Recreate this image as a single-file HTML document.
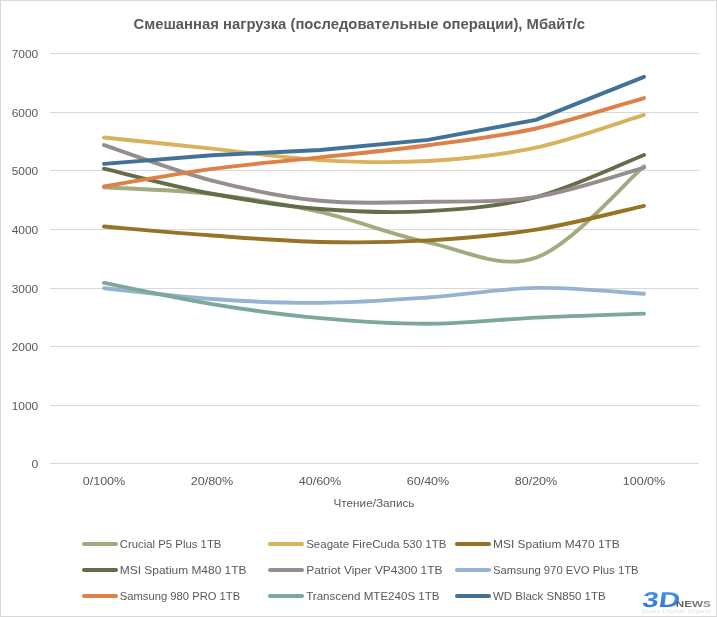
<!DOCTYPE html>
<html><head><meta charset="utf-8"><title>Смешанная нагрузка</title>
<style>
html,body{margin:0;padding:0;background:#fff;}
svg{display:block;will-change:transform;}
text{font-family:'Liberation Sans', Arial, sans-serif;fill:#595959;}
</style></head><body>
<svg width="717" height="617" viewBox="0 0 717 617">
<rect x="0.5" y="0.5" width="716" height="616" fill="#fff" stroke="#d9d9d9" stroke-width="1"/>
<text x="133.6" y="28.6" font-size="15.2" font-weight="bold" textLength="451.5" lengthAdjust="spacingAndGlyphs">Смешанная нагрузка (последовательные операции), Мбайт/с</text>
<line x1="50" y1="53.5" x2="699" y2="53.5" stroke="#d9d9d9" stroke-width="1"/>
<line x1="50" y1="112.5" x2="699" y2="112.5" stroke="#d9d9d9" stroke-width="1"/>
<line x1="50" y1="170.5" x2="699" y2="170.5" stroke="#d9d9d9" stroke-width="1"/>
<line x1="50" y1="229.5" x2="699" y2="229.5" stroke="#d9d9d9" stroke-width="1"/>
<line x1="50" y1="288.5" x2="699" y2="288.5" stroke="#d9d9d9" stroke-width="1"/>
<line x1="50" y1="346.5" x2="699" y2="346.5" stroke="#d9d9d9" stroke-width="1"/>
<line x1="50" y1="405.5" x2="699" y2="405.5" stroke="#d9d9d9" stroke-width="1"/>
<line x1="50" y1="463.5" x2="699" y2="463.5" stroke="#d9d9d9" stroke-width="1"/>
<text x="38.2" y="58.0" font-size="11.5" text-anchor="end" textLength="26.5" lengthAdjust="spacingAndGlyphs">7000</text>
<text x="38.2" y="117.0" font-size="11.5" text-anchor="end" textLength="26.5" lengthAdjust="spacingAndGlyphs">6000</text>
<text x="38.2" y="175.0" font-size="11.5" text-anchor="end" textLength="26.5" lengthAdjust="spacingAndGlyphs">5000</text>
<text x="38.2" y="234.0" font-size="11.5" text-anchor="end" textLength="26.5" lengthAdjust="spacingAndGlyphs">4000</text>
<text x="38.2" y="293.0" font-size="11.5" text-anchor="end" textLength="26.5" lengthAdjust="spacingAndGlyphs">3000</text>
<text x="38.2" y="351.0" font-size="11.5" text-anchor="end" textLength="26.5" lengthAdjust="spacingAndGlyphs">2000</text>
<text x="38.2" y="410.0" font-size="11.5" text-anchor="end" textLength="26.5" lengthAdjust="spacingAndGlyphs">1000</text>
<text x="38.2" y="468.0" font-size="11.5" text-anchor="end" textLength="6.8" lengthAdjust="spacingAndGlyphs">0</text>
<text x="104.0" y="485.2" font-size="11.5" text-anchor="middle" textLength="42.6" lengthAdjust="spacingAndGlyphs">0/100%</text>
<text x="212.0" y="485.2" font-size="11.5" text-anchor="middle" textLength="42.6" lengthAdjust="spacingAndGlyphs">20/80%</text>
<text x="320.0" y="485.2" font-size="11.5" text-anchor="middle" textLength="42.6" lengthAdjust="spacingAndGlyphs">40/60%</text>
<text x="428.0" y="485.2" font-size="11.5" text-anchor="middle" textLength="42.6" lengthAdjust="spacingAndGlyphs">60/40%</text>
<text x="536.0" y="485.2" font-size="11.5" text-anchor="middle" textLength="42.6" lengthAdjust="spacingAndGlyphs">80/20%</text>
<text x="644.0" y="485.2" font-size="11.5" text-anchor="middle" textLength="42.6" lengthAdjust="spacingAndGlyphs">100/0%</text>
<text x="374" y="506.8" font-size="11" text-anchor="middle" textLength="81" lengthAdjust="spacingAndGlyphs">Чтение/Запись</text>
<g fill="none" stroke-width="3.90" stroke-linecap="round" stroke-linejoin="round">
<path stroke="#A2AB7F" d="M104.00 187.28 C122.00 188.41 176.00 189.96 212.00 194.07 C248.00 198.18 284.00 203.88 320.00 211.94 C356.00 219.99 392.00 234.78 428.00 242.39 C464.00 250.01 500.00 270.30 536.00 257.62 C572.00 244.94 626.00 181.53 644.00 166.31"/>
<path stroke="#D9B25E" d="M104.00 137.49 C122.00 139.36 176.00 144.91 212.00 148.68 C248.00 152.45 284.00 158.05 320.00 160.10 C356.00 162.15 392.00 163.05 428.00 160.98 C464.00 158.91 500.00 155.37 536.00 147.68 C572.00 140.00 626.00 120.35 644.00 114.88"/>
<path stroke="#967325" d="M104.00 226.52 C122.00 228.01 176.00 232.90 212.00 235.48 C248.00 238.06 284.00 241.16 320.00 241.98 C356.00 242.80 392.00 242.45 428.00 240.40 C464.00 238.35 500.00 235.43 536.00 229.68 C572.00 223.93 626.00 209.87 644.00 205.90"/>
<path stroke="#656D48" d="M104.00 168.71 C122.00 172.89 176.00 187.06 212.00 193.78 C248.00 200.49 284.00 206.12 320.00 209.01 C356.00 211.90 392.00 213.10 428.00 211.12 C464.00 209.13 500.00 206.47 536.00 197.12 C572.00 187.77 626.00 162.02 644.00 155.00"/>
<path stroke="#978D8D" d="M104.00 145.11 C122.00 151.02 176.00 171.32 212.00 180.60 C248.00 189.88 284.00 197.27 320.00 200.81 C356.00 204.34 392.00 202.44 428.00 201.80 C464.00 201.17 500.00 202.68 536.00 197.00 C572.00 191.32 626.00 172.60 644.00 167.71"/>
<path stroke="#95B4D2" d="M104.00 288.20 C122.00 290.00 176.00 296.58 212.00 299.03 C248.00 301.48 284.00 303.15 320.00 302.90 C356.00 302.64 392.00 300.01 428.00 297.51 C464.00 295.01 500.00 288.54 536.00 287.90 C572.00 287.27 626.00 292.73 644.00 293.70"/>
<path stroke="#DE8148" d="M104.00 186.40 C122.00 183.48 176.00 173.72 212.00 168.89 C248.00 164.05 284.00 161.35 320.00 157.41 C356.00 153.46 392.00 150.05 428.00 145.22 C464.00 140.40 500.00 136.34 536.00 128.47 C572.00 120.60 626.00 103.09 644.00 98.01"/>
<path stroke="#7BA89A" d="M104.00 282.92 C122.00 286.45 176.00 298.20 212.00 304.07 C248.00 309.94 284.00 314.84 320.00 318.13 C356.00 321.42 392.00 323.89 428.00 323.81 C464.00 323.72 500.00 319.29 536.00 317.60 C572.00 315.91 626.00 314.33 644.00 313.67"/>
<path stroke="#427297" d="M104.00 163.91 L212.00 155.30 L320.00 150.03 L428.00 139.89 L536.00 119.92 L644.00 76.87"/>
</g>
<line x1="84.0" y1="544.0" x2="116.0" y2="544.0" stroke="#A2AB7F" stroke-width="4.10" stroke-linecap="round"/>
<text x="119.8" y="547.8" font-size="11.5" textLength="101.6" lengthAdjust="spacingAndGlyphs">Crucial P5 Plus 1TB</text>
<line x1="270.0" y1="544.0" x2="302.0" y2="544.0" stroke="#D9B25E" stroke-width="4.10" stroke-linecap="round"/>
<text x="306.2" y="547.8" font-size="11.5" textLength="140.3" lengthAdjust="spacingAndGlyphs">Seagate FireCuda 530 1TB</text>
<line x1="457.0" y1="544.0" x2="489.0" y2="544.0" stroke="#967325" stroke-width="4.10" stroke-linecap="round"/>
<text x="493.0" y="547.8" font-size="11.5" textLength="126.8" lengthAdjust="spacingAndGlyphs">MSI Spatium M470 1TB</text>
<line x1="84.0" y1="570.0" x2="116.0" y2="570.0" stroke="#656D48" stroke-width="4.10" stroke-linecap="round"/>
<text x="119.8" y="573.8" font-size="11.5" textLength="126.7" lengthAdjust="spacingAndGlyphs">MSI Spatium M480 1TB</text>
<line x1="270.0" y1="570.0" x2="302.0" y2="570.0" stroke="#978D8D" stroke-width="4.10" stroke-linecap="round"/>
<text x="306.2" y="573.8" font-size="11.5" textLength="136.3" lengthAdjust="spacingAndGlyphs">Patriot Viper VP4300 1TB</text>
<line x1="457.0" y1="570.0" x2="489.0" y2="570.0" stroke="#95B4D2" stroke-width="4.10" stroke-linecap="round"/>
<text x="493.0" y="573.8" font-size="11.5" textLength="145.6" lengthAdjust="spacingAndGlyphs">Samsung 970 EVO Plus 1TB</text>
<line x1="84.0" y1="596.0" x2="116.0" y2="596.0" stroke="#DE8148" stroke-width="4.10" stroke-linecap="round"/>
<text x="119.8" y="599.8" font-size="11.5" textLength="120.4" lengthAdjust="spacingAndGlyphs">Samsung 980 PRO 1TB</text>
<line x1="270.0" y1="596.0" x2="302.0" y2="596.0" stroke="#7BA89A" stroke-width="4.10" stroke-linecap="round"/>
<text x="306.2" y="599.8" font-size="11.5" textLength="133.4" lengthAdjust="spacingAndGlyphs">Transcend MTE240S 1TB</text>
<line x1="457.0" y1="596.0" x2="489.0" y2="596.0" stroke="#427297" stroke-width="4.10" stroke-linecap="round"/>
<text x="493.0" y="599.8" font-size="11.5" textLength="112.6" lengthAdjust="spacingAndGlyphs">WD Black SN850 1TB</text>
<defs><linearGradient id="lg" x1="0" y1="0" x2="0" y2="1" gradientUnits="objectBoundingBox"><stop offset="0" stop-color="#4a9be8"/><stop offset="1" stop-color="#2d6fd2"/></linearGradient>
<linearGradient id="ng" x1="0" y1="0" x2="1" y2="0"><stop offset="0" stop-color="#5a5a5a"/><stop offset="1" stop-color="#8a8a8a"/></linearGradient></defs>
<g transform="translate(641.6 606.9) skewX(-8)"><text x="0" y="0" font-size="21.4" font-weight="bold" style="fill:url(#lg)" textLength="37.5" lengthAdjust="spacingAndGlyphs">3D</text></g>
<text x="675.8" y="607" font-size="8.4" font-weight="bold" style="fill:url(#ng)" textLength="35" lengthAdjust="spacingAndGlyphs">NEWS</text>
<text x="642" y="613.3" font-size="4.6" style="fill:#e2e2e2" textLength="69" lengthAdjust="spacingAndGlyphs">Daily Digital Digest</text>
</svg></body></html>
